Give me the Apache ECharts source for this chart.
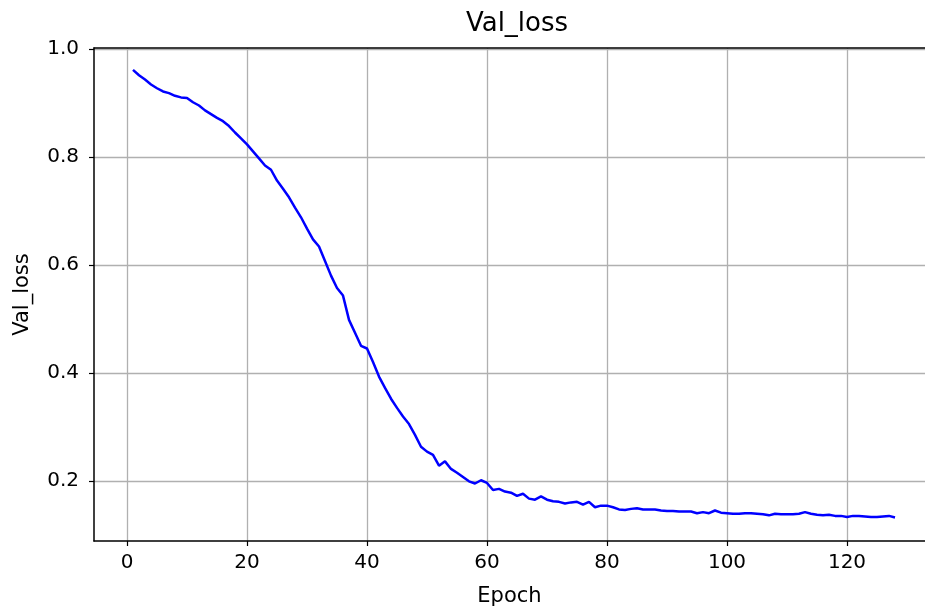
<!DOCTYPE html>
<html><head><meta charset="utf-8">
<script src="https://cdn.jsdelivr.net/npm/echarts@6/dist/echarts.min.js"></script>
<style>html,body{margin:0;padding:0;background:#fff}#c{width:925px;height:607px}</style>
</head><body><div id="c"></div>
<script>
const epochs = Array.from({length:128},(_,i)=>i+1);
const valLoss = [
0.961,0.951,0.943,0.934,0.927,0.921,0.918,0.913,0.910,0.909,
0.901,0.895,0.886,0.879,0.872,0.866,0.857,0.845,0.834,0.823,
0.810,0.797,0.784,0.776,0.756,0.741,0.725,0.706,0.688,0.667,
0.647,0.634,0.607,0.580,0.557,0.543,0.498,0.474,0.450,0.445,
0.420,0.393,0.372,0.352,0.335,0.319,0.305,0.285,0.263,0.254,
0.248,0.228,0.236,0.222,0.215,0.207,0.199,0.195,0.201,0.196,
0.183,0.185,0.180,0.178,0.172,0.176,0.167,0.165,0.171,0.165,
0.162,0.161,0.158,0.160,0.161,0.156,0.161,0.151,0.154,0.154,
0.151,0.147,0.146,0.148,0.149,0.147,0.147,0.147,0.145,0.144,
0.144,0.143,0.143,0.143,0.140,0.142,0.140,0.145,0.141,0.140,
0.139,0.139,0.140,0.140,0.139,0.138,0.136,0.139,0.138,0.138,
0.138,0.139,0.142,0.139,0.137,0.136,0.137,0.135,0.135,0.133,
0.135,0.135,0.134,0.133,0.133,0.134,0.135,0.132];
const xTicks = [0,20,40,60,80,100,120];
const yTicks = [0.2,0.4,0.6,0.8,1.0];

const font = 'DejaVu Sans';
const chart = echarts.init(document.getElementById('c'));
chart.setOption({
  animation:false,
  title:{text:'Val_loss',left:512,top:6,textAlign:'center',textStyle:{fontFamily:font,fontSize:26,fontWeight:'normal',color:'#000'}},
  grid:{left:94,top:48,right:0,bottom:66,show:false,containLabel:false,outerBoundsMode:'none'},
  xAxis:[{type:'value',min:-5.5,max:133,position:'bottom',
    name:'Epoch',nameLocation:'middle',nameGap:45,nameTextStyle:{fontFamily:font,fontSize:21,color:'#000'},
    axisLine:{show:true,onZero:false,lineStyle:{color:'#000',width:1.5}},
    axisTick:{show:true,length:5,customValues:xTicks,lineStyle:{color:'#000',width:1.2}},
    axisLabel:{customValues:xTicks,fontFamily:font,fontSize:20,color:'#000',margin:12},
    splitLine:{show:true,lineStyle:{color:'#b0b0b0',width:1.3}}},
   {type:'value',min:-5.5,max:133,position:'top',
    axisLine:{show:true,onZero:false,lineStyle:{color:'#000',width:1.5}},
    axisTick:{show:false},axisLabel:{show:false},splitLine:{show:false}}],
  yAxis:{type:'value',min:0.0885,max:1.0015,
    name:'Val_loss',nameLocation:'middle',nameGap:61,nameRotate:90,nameTextStyle:{fontFamily:font,fontSize:21,color:'#000'},
    axisLine:{show:true,onZero:false,lineStyle:{color:'#000',width:1.5}},
    axisTick:{show:true,length:5,customValues:yTicks,lineStyle:{color:'#000',width:1.2}},
    axisLabel:{customValues:yTicks,fontFamily:font,fontSize:20,color:'#000',margin:15,formatter:v=>v.toFixed(1)},
    splitLine:{show:true,lineStyle:{color:'#b0b0b0',width:1.3}}},
  series:[{type:'line',xAxisIndex:0,data:epochs.map((e,i)=>[e,valLoss[i]]),showSymbol:false,lineStyle:{color:'#0000ff',width:2.5},clip:true}]
});
</script></body></html>
